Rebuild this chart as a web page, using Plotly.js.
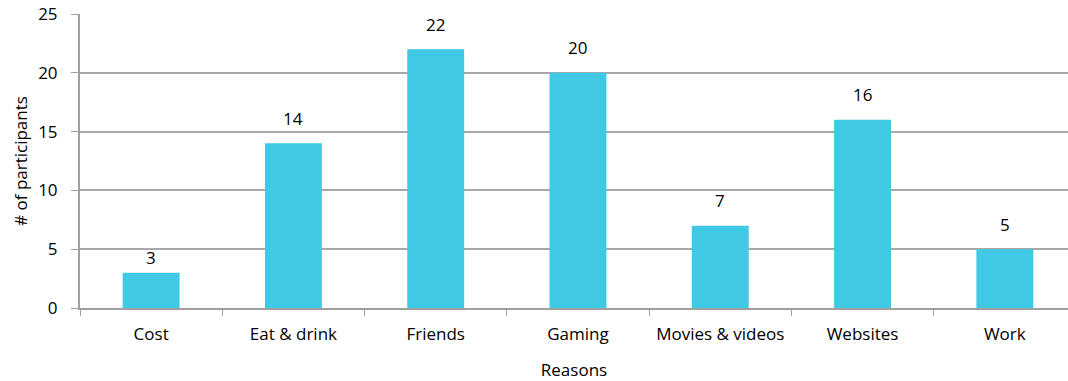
<!DOCTYPE html>
<html><head><meta charset="utf-8">
<script src="https://cdn.plot.ly/plotly-3.0.1.min.js"></script>
<style>html,body{margin:0;padding:0;background:#fff}#chart{width:1068px;height:381px}</style>
</head><body><div id="chart"></div>
<script>
const categories = ["Cost", "Eat & drink", "Friends", "Gaming", "Movies & videos", "Websites", "Work"];
const participants = [3, 14, 22, 20, 7, 16, 5];
const yTicks = [0, 5, 10, 15, 20, 25];

const font = {family: "Open Sans, Liberation Sans, sans-serif", size: 17, color: "#000"};
Plotly.newPlot("chart", [{
  type: "bar", x: categories, y: participants,
  marker: {color: "#40c9e5"}, hoverinfo: "none"
}], {
  width: 1068, height: 381,
  margin: {l: 80, r: 0, t: 14, b: 73},
  paper_bgcolor: "#fff", plot_bgcolor: "#fff",
  bargap: 0.6, showlegend: false, font: font,
  annotations: categories.map((c, i) => ({
    x: c, y: participants[i], xref: "x", yref: "y", text: String(participants[i]),
    showarrow: false, yanchor: "middle", yshift: i === 0 ? 15 : 25, font: font
  })),
  xaxis: {
    type: "category", range: [-0.5, 6.444], tickson: "boundaries", ticks: "outside", ticklen: 6,
    tickcolor: "#a0a0a0", showgrid: false, showline: true, linecolor: "#a0a0a0", linewidth: 2,
    tickfont: font, ticklabelstandoff: 10, title: {text: "Reasons", font: font, standoff: 21}
  },
  yaxis: {
    range: [0, 25], tickvals: yTicks, ticks: "outside", ticklen: 7, tickcolor: "#a0a0a0",
    showgrid: true, gridcolor: "#a8a8a8", gridwidth: 2, showline: true, linecolor: "#a0a0a0", linewidth: 2,
    zeroline: false, tickfont: font, ticklabelstandoff: 10,
    title: {text: "# of participants", font: font, standoff: 6}
  }
}, {displayModeBar: false, staticPlot: true});
</script></body></html>
